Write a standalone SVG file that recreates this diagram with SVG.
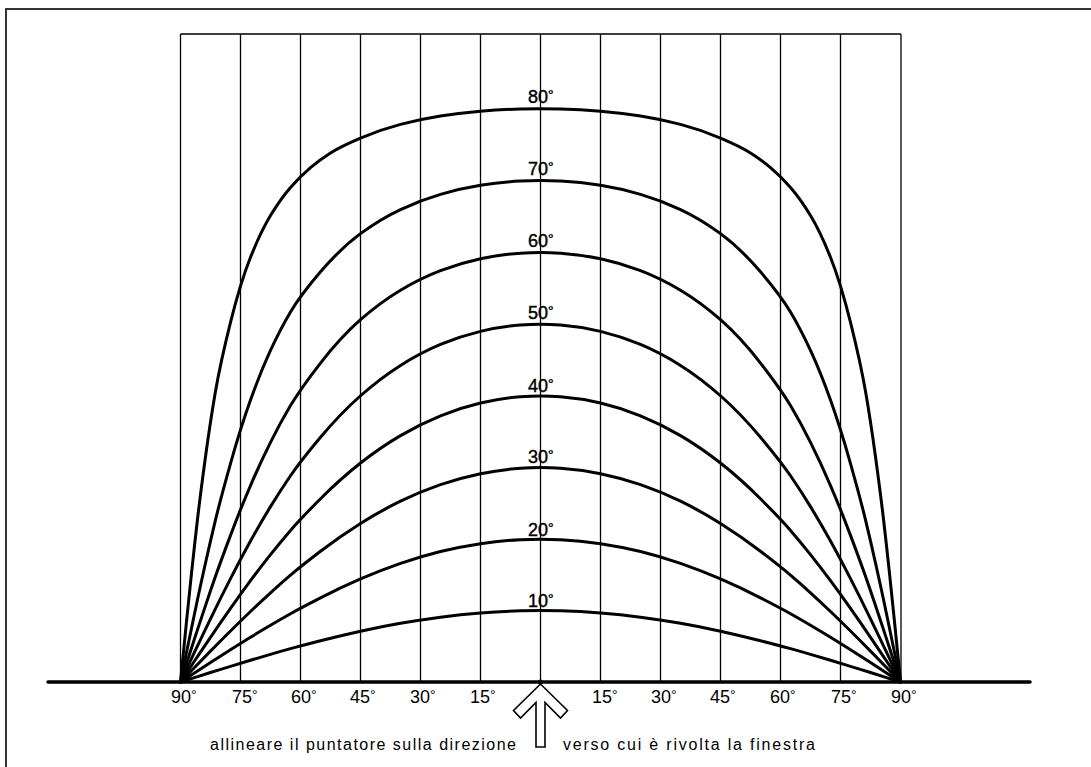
<svg xmlns="http://www.w3.org/2000/svg" width="1091" height="767" viewBox="0 0 1091 767">
<style>
.frame{fill:none;stroke:#333;stroke-width:2}
.grid{fill:none;stroke:#000;stroke-width:1.3}
.base{fill:none;stroke:#000;stroke-width:3.5;stroke-linecap:round}
.curve{fill:none;stroke:#000;stroke-width:3;stroke-linejoin:round;stroke-linecap:round}
.alt{font-family:"Liberation Sans",Arial,sans-serif;font-size:18px;fill:#000;stroke:#000;stroke-width:0.4}
.az{font-family:"Liberation Sans",Arial,sans-serif;font-size:18px;fill:#000}
.deg{font-size:14px}
.cap{font-family:"Liberation Sans",Arial,sans-serif;font-size:16px;fill:#000}
.arrow{fill:#fff;stroke:#000;stroke-width:1.6;stroke-linejoin:miter}
</style>
<rect width="1091" height="767" fill="#fff"/>
<g id="frame"><path class="frame" d="M6,767 V9 H1091"/></g>
<g id="grid">
<path class="grid" d="M180.5,34 H901 M180.5,34 V682 M240.5,34 V682 M300.5,34 V682 M360.5,34 V682 M420.5,34 V682 M480.5,34 V682 M540.5,34 V682 M600.5,34 V682 M660.5,34 V682 M720.5,34 V682 M780.5,34 V682 M840.5,34 V682 M901,34 V682"/>
<path class="base" d="M48,682 H1030"/>
</g>
<g id="curves">
<path id="c10" class="curve" d="M180.5,682 L184.5,680.75 Q188.5,679.5 194.5,677.6 Q200.5,675.7 210.5,672.55 Q220.5,669.4 230.5,666.35 Q240.5,663.3 250.5,660.3 Q260.5,657.3 270.5,654.35 Q280.5,651.4 290.5,648.65 Q300.5,645.9 320.5,640.75 Q340.5,635.6 360.5,631.2 Q380.5,626.8 400.5,623.3 Q420.5,619.8 440.5,617.15 Q460.5,614.5 480.5,612.95 Q500.5,611.4 520.5,610.85 Q540.5,610.3 560.5,610.85 Q580.5,611.4 600.5,612.95 Q620.5,614.5 640.5,617.15 Q660.5,619.8 680.5,623.3 Q700.5,626.8 720.5,631.2 Q740.5,635.6 760.5,640.75 Q780.5,645.9 790.5,648.65 Q800.5,651.4 810.5,654.35 Q820.5,657.3 830.5,660.3 Q840.5,663.3 850.5,666.35 Q860.5,669.4 870.5,672.55 Q880.5,675.7 886.5,677.6 Q892.5,679.5 896.5,680.75 L900.5,682"/>
<path id="c20" class="curve" d="M180.5,682 L184.5,679.4 Q188.5,676.8 194.5,672.9 Q200.5,669 210.5,662.55 Q220.5,656.1 230.5,649.75 Q240.5,643.4 250.5,637.25 Q260.5,631.1 270.5,625.2 Q280.5,619.3 290.5,613.7 Q300.5,608.1 320.5,597.85 Q340.5,587.6 360.5,578.95 Q380.5,570.3 400.5,563.4 Q420.5,556.5 440.5,551.55 Q460.5,546.6 480.5,543.65 Q500.5,540.7 520.5,539.65 Q540.5,538.6 560.5,539.65 Q580.5,540.7 600.5,543.65 Q620.5,546.6 640.5,551.55 Q660.5,556.5 680.5,563.4 Q700.5,570.3 720.5,578.95 Q740.5,587.6 760.5,597.85 Q780.5,608.1 790.5,613.7 Q800.5,619.3 810.5,625.2 Q820.5,631.1 830.5,637.25 Q840.5,643.4 850.5,649.75 Q860.5,656.1 870.5,662.55 Q880.5,669 886.5,672.9 Q892.5,676.8 896.5,679.4 L900.5,682"/>
<path id="c30" class="curve" d="M180.5,682 L184.5,677.85 Q188.5,673.7 194.5,667.55 Q200.5,661.4 210.5,651.15 Q220.5,640.9 230.5,631 Q240.5,621.1 250.5,611.5 Q260.5,601.9 270.5,592.8 Q280.5,583.7 290.5,575.15 Q300.5,566.6 320.5,551.3 Q340.5,536 360.5,523.45 Q380.5,510.9 400.5,501.2 Q420.5,491.5 440.5,484.65 Q460.5,477.8 480.5,473.7 Q500.5,469.6 520.5,468.25 Q540.5,466.9 560.5,468.25 Q580.5,469.6 600.5,473.7 Q620.5,477.8 640.5,484.65 Q660.5,491.5 680.5,501.2 Q700.5,510.9 720.5,523.45 Q740.5,536 760.5,551.3 Q780.5,566.6 790.5,575.15 Q800.5,583.7 810.5,592.8 Q820.5,601.9 830.5,611.5 Q840.5,621.1 850.5,631 Q860.5,640.9 870.5,651.15 Q880.5,661.4 886.5,667.55 Q892.5,673.7 896.5,677.85 L900.5,682"/>
<path id="c40" class="curve" d="M180.5,682 L184.5,676 Q188.5,670 194.5,661 Q200.5,652 210.5,637.3 Q220.5,622.6 230.5,608.4 Q240.5,594.2 250.5,580.7 Q260.5,567.2 270.5,554.6 Q280.5,542 290.5,530.4 Q300.5,518.8 320.5,498.8 Q340.5,478.8 360.5,463.05 Q380.5,447.3 400.5,435.6 Q420.5,423.9 440.5,415.8 Q460.5,407.7 480.5,403 Q500.5,398.3 520.5,396.75 Q540.5,395.2 560.5,396.75 Q580.5,398.3 600.5,403 Q620.5,407.7 640.5,415.8 Q660.5,423.9 680.5,435.6 Q700.5,447.3 720.5,463.05 Q740.5,478.8 760.5,498.8 Q780.5,518.8 790.5,530.4 Q800.5,542 810.5,554.6 Q820.5,567.2 830.5,580.7 Q840.5,594.2 850.5,608.4 Q860.5,622.6 870.5,637.3 Q880.5,652 886.5,661 Q892.5,670 896.5,676 L900.5,682"/>
<path id="c50" class="curve" d="M180.5,682 L184.5,673.45 Q188.5,664.9 194.5,652.2 Q200.5,639.5 210.5,618.85 Q220.5,598.2 230.5,578.65 Q240.5,559.1 250.5,541.05 Q260.5,523 270.5,506.65 Q280.5,490.3 290.5,475.75 Q300.5,461.2 320.5,437.3 Q340.5,413.4 360.5,395.75 Q380.5,378.1 400.5,365.45 Q420.5,352.8 440.5,344.45 Q460.5,336.1 480.5,331.35 Q500.5,326.6 520.5,325.05 Q540.5,323.5 560.5,325.05 Q580.5,326.6 600.5,331.35 Q620.5,336.1 640.5,344.45 Q660.5,352.8 680.5,365.45 Q700.5,378.1 720.5,395.75 Q740.5,413.4 760.5,437.3 Q780.5,461.2 790.5,475.75 Q800.5,490.3 810.5,506.65 Q820.5,523 830.5,541.05 Q840.5,559.1 850.5,578.65 Q860.5,598.2 870.5,618.85 Q880.5,639.5 886.5,652.2 Q892.5,664.9 896.5,673.45 L900.5,682"/>
<path id="c60" class="curve" d="M180.5,682 L182.5,675.8 Q184.5,669.6 186.5,663.4 Q188.5,657.2 191.5,647.95 Q194.5,638.7 197.5,629.6 Q200.5,620.5 205.5,605.6 Q210.5,590.7 215.5,576.35 Q220.5,562 230.5,535.4 Q240.5,508.8 250.5,485.55 Q260.5,462.3 270.5,442.35 Q280.5,422.4 290.5,405.6 Q300.5,388.8 320.5,363.05 Q340.5,337.3 360.5,319.7 Q380.5,302.1 400.5,290.2 Q420.5,278.3 440.5,270.65 Q460.5,263 480.5,258.75 Q500.5,254.5 520.5,253.15 Q540.5,251.8 560.5,253.15 Q580.5,254.5 600.5,258.75 Q620.5,263 640.5,270.65 Q660.5,278.3 680.5,290.2 Q700.5,302.1 720.5,319.7 Q740.5,337.3 760.5,363.05 Q780.5,388.8 790.5,405.6 Q800.5,422.4 810.5,442.35 Q820.5,462.3 830.5,485.55 Q840.5,508.8 850.5,535.4 Q860.5,562 865.5,576.35 Q870.5,590.7 875.5,605.6 Q880.5,620.5 883.5,629.6 Q886.5,638.7 889.5,647.95 Q892.5,657.2 894.5,663.4 Q896.5,669.6 898.5,675.8 L900.5,682"/>
<path id="c70" class="curve" d="M180.5,682 L182.5,672.15 Q184.5,662.3 186.5,652.5 Q188.5,642.7 191.5,628.2 Q194.5,613.7 197.5,599.55 Q200.5,585.4 205.5,563 Q210.5,540.6 215.5,519.85 Q220.5,499.1 230.5,463.55 Q240.5,428 250.5,400.05 Q260.5,372.1 270.5,350.45 Q280.5,328.8 290.5,312 Q300.5,295.2 320.5,271.8 Q340.5,248.4 360.5,233.65 Q380.5,218.9 400.5,209.55 Q420.5,200.2 440.5,194.35 Q460.5,188.5 480.5,185.3 Q500.5,182.1 520.5,181.1 Q540.5,180.1 560.5,181.1 Q580.5,182.1 600.5,185.3 Q620.5,188.5 640.5,194.35 Q660.5,200.2 680.5,209.55 Q700.5,218.9 720.5,233.65 Q740.5,248.4 760.5,271.8 Q780.5,295.2 790.5,312 Q800.5,328.8 810.5,350.45 Q820.5,372.1 830.5,400.05 Q840.5,428 850.5,463.55 Q860.5,499.1 865.5,519.85 Q870.5,540.6 875.5,563 Q880.5,585.4 883.5,599.55 Q886.5,613.7 889.5,628.2 Q892.5,642.7 894.5,652.5 Q896.5,662.3 898.5,672.15 L900.5,682"/>
<path id="c80" class="curve" d="M180.5,682 L182.5,661.75 Q184.5,641.5 186.5,621.6 Q188.5,601.7 191.5,573.4 Q194.5,545.1 197.5,519.25 Q200.5,493.4 205.5,456.8 Q210.5,420.2 215.5,391.35 Q220.5,362.5 230.5,322.45 Q240.5,282.4 250.5,257.3 Q260.5,232.2 270.5,215.6 Q280.5,199 290.5,187.5 Q300.5,176 310.5,167.6 Q320.5,159.2 330.5,152.95 Q340.5,146.7 360.5,138.15 Q380.5,129.6 400.5,124.4 Q420.5,119.2 440.5,116.05 Q460.5,112.9 480.5,111.2 Q500.5,109.5 520.5,108.95 Q540.5,108.4 560.5,108.95 Q580.5,109.5 600.5,111.2 Q620.5,112.9 640.5,116.05 Q660.5,119.2 680.5,124.4 Q700.5,129.6 720.5,138.15 Q740.5,146.7 750.5,152.95 Q760.5,159.2 770.5,167.6 Q780.5,176 790.5,187.5 Q800.5,199 810.5,215.6 Q820.5,232.2 830.5,257.3 Q840.5,282.4 850.5,322.45 Q860.5,362.5 865.5,391.35 Q870.5,420.2 875.5,456.8 Q880.5,493.4 883.5,519.25 Q886.5,545.1 889.5,573.4 Q892.5,601.7 894.5,621.6 Q896.5,641.5 898.5,661.75 L900.5,682"/>
</g>
<g id="altitude-labels">
<text class="alt" x="528" y="103">80<tspan class="deg" dy="-3">°</tspan></text>
<text class="alt" x="528" y="175">70<tspan class="deg" dy="-3">°</tspan></text>
<text class="alt" x="528" y="247">60<tspan class="deg" dy="-3">°</tspan></text>
<text class="alt" x="528" y="319">50<tspan class="deg" dy="-3">°</tspan></text>
<text class="alt" x="528" y="392">40<tspan class="deg" dy="-3">°</tspan></text>
<text class="alt" x="528" y="463">30<tspan class="deg" dy="-3">°</tspan></text>
<text class="alt" x="528" y="536">20<tspan class="deg" dy="-3">°</tspan></text>
<text class="alt" x="528" y="607">10<tspan class="deg" dy="-3">°</tspan></text>
</g>
<g id="azimuth-labels">
<text class="az" x="171" y="703">90<tspan class="deg" dy="-3">°</tspan></text>
<text class="az" x="232" y="703">75<tspan class="deg" dy="-3">°</tspan></text>
<text class="az" x="291" y="703">60<tspan class="deg" dy="-3">°</tspan></text>
<text class="az" x="350" y="703">45<tspan class="deg" dy="-3">°</tspan></text>
<text class="az" x="410" y="703">30<tspan class="deg" dy="-3">°</tspan></text>
<text class="az" x="470" y="703">15<tspan class="deg" dy="-3">°</tspan></text>
<text class="az" x="592" y="703">15<tspan class="deg" dy="-3">°</tspan></text>
<text class="az" x="651" y="703">30<tspan class="deg" dy="-3">°</tspan></text>
<text class="az" x="710" y="703">45<tspan class="deg" dy="-3">°</tspan></text>
<text class="az" x="770" y="703">60<tspan class="deg" dy="-3">°</tspan></text>
<text class="az" x="831" y="703">75<tspan class="deg" dy="-3">°</tspan></text>
<text class="az" x="891" y="703">90<tspan class="deg" dy="-3">°</tspan></text>
</g>
<g id="pointer">
<circle cx="540.5" cy="682" r="2.5" fill="#000"/>
<polygon class="arrow" points="540.5,684 513.5,710.5 520.5,718 536,702.5 536,747 545,747 545,702.5 560.5,718 567.5,710.5"/>
</g>
<g id="caption">
<text class="cap" x="210" y="750" textLength="306" lengthAdjust="spacing">allineare il puntatore sulla direzione</text>
<text class="cap" x="563" y="750" textLength="252" lengthAdjust="spacing">verso cui è rivolta la finestra</text>
</g>
</svg>
